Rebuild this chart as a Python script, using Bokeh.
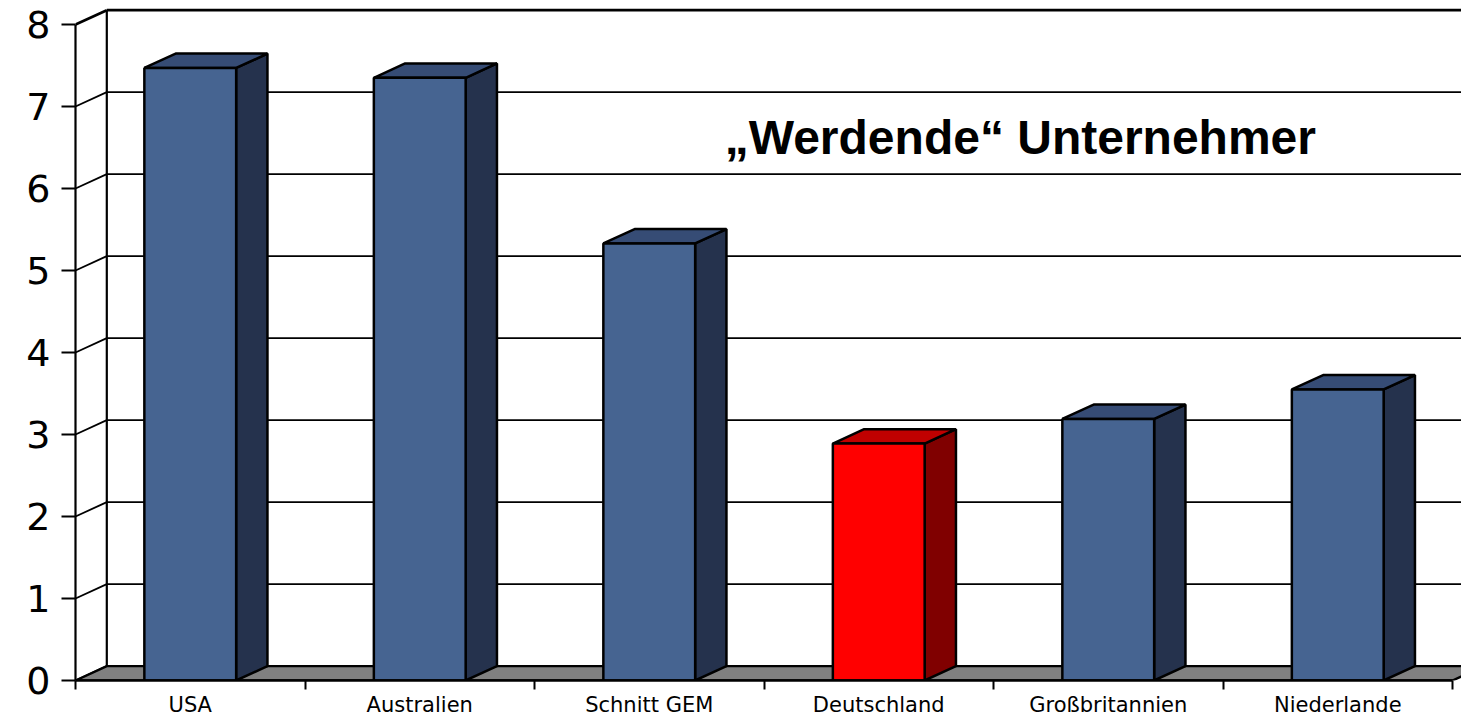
from bokeh.plotting import figure
from bokeh.models import Range1d, FixedTicker
from bokeh.embed import file_html
from bokeh.resources import INLINE
from bokeh.core.properties import value

# ---- data ----
categories = ["USA", "Australien", "Schnitt GEM", "Deutschland", "Großbritannien", "Niederlande"]
values = [7.47, 7.35, 5.33, 2.89, 3.19, 3.55]
highlighted = [False, False, False, True, False, False]
y_ticks = [0, 1, 2, 3, 4, 5, 6, 7, 8]
chart_title = "„Werdende“ Unternehmer"

# ---- styling ----
BLUE_FRONT, BLUE_TOP, BLUE_SIDE = "#466491", "#364c75", "#25324d"
RED_FRONT, RED_TOP, RED_SIDE = "#ff0000", "#c00000", "#800000"
FLOOR = "#808080"
DX = 0.1364     # depth offset (category units)
DY = 0.175      # depth offset (value units)
BAR_W = 0.40

W, H = 1461, 719
MB_LEFT, MB_BOTTOM = 75, 37
PX_PER_CAT, PX_PER_UNIT = 229.5, 82.0
x_end = (W - MB_LEFT) / PX_PER_CAT
y_end = 680.0 / PX_PER_UNIT
n = len(categories)
ymax = y_ticks[-1]

p = figure(width=W, height=H, output_backend="svg", toolbar_location=None,
           x_range=Range1d(0, x_end), y_range=Range1d(0, y_end),
           min_border_left=MB_LEFT, min_border_right=0, min_border_top=0,
           min_border_bottom=MB_BOTTOM, background_fill_color="white",
           border_fill_color="white")
p.outline_line_color = None
p.xgrid.visible = False
p.ygrid.visible = False

# ---- walls ----
grid_v = y_ticks[1:]
p.segment(x0=[0] * len(y_ticks), y0=y_ticks, x1=[DX] * len(y_ticks),
          y1=[v + DY for v in y_ticks], line_color="black",
          line_width=[1.8] * (len(y_ticks) - 1) + [2.8])
p.segment(x0=[DX] * len(grid_v), y0=[v + DY for v in grid_v],
          x1=[n + 1] * len(grid_v), y1=[v + DY for v in grid_v],
          line_color="black", line_width=[1.8] * (len(grid_v) - 1) + [2.8])
p.segment(x0=[DX], y0=[DY], x1=[DX], y1=[ymax + DY], line_color="black", line_width=2.2)

# floor
p.patch(x=[0, n, n + DX, DX], y=[0, 0, DY, DY], fill_color=FLOOR,
        line_color="black", line_width=2.4)

# ---- bars ----
centers = [i + 0.5 for i in range(n)]
lefts = [c - BAR_W / 2 for c in centers]
rights = [c + BAR_W / 2 for c in centers]
fronts = [RED_FRONT if h else BLUE_FRONT for h in highlighted]
tops = [RED_TOP if h else BLUE_TOP for h in highlighted]
sides = [RED_SIDE if h else BLUE_SIDE for h in highlighted]

p.patches(xs=[[r, r + DX, r + DX, r] for r in rights],
          ys=[[0, DY, v + DY, v] for v in values],
          fill_color=sides, line_color="black", line_width=2.5)
p.patches(xs=[[l, r, r + DX, l + DX] for l, r in zip(lefts, rights)],
          ys=[[v, v, v + DY, v + DY] for v in values],
          fill_color=tops, line_color="black", line_width=2.5)
p.quad(left=lefts, right=rights, bottom=[0] * n, top=values, fill_color=fronts,
       line_color="black", line_width=2.5)

# ---- title ----
p.text(x=[4.117], y=[6.62], text=[chart_title], text_font=value("Liberation Sans"),
       text_font_style="bold", text_font_size="48px", text_align="center",
       text_baseline="alphabetic", text_color="black")

# ---- axes ----
ya = p.yaxis[0]
ya.ticker = FixedTicker(ticks=y_ticks)
ya.bounds = (0, ymax)
ya.axis_line_width = 2.2
ya.axis_line_color = "black"
ya.major_tick_out = 14
ya.major_tick_in = 0
ya.major_tick_line_width = 2
ya.minor_tick_line_color = None
ya.major_label_standoff = 11
ya.major_label_text_font = "DejaVu Sans"
ya.major_label_text_font_size = "38px"
ya.major_label_text_color = "black"

xa = p.xaxis[0]
xa.ticker = FixedTicker(ticks=centers, minor_ticks=list(range(n + 1)))
xa.major_label_overrides = {c: cat for c, cat in zip(centers, categories)}
xa.bounds = (0, n)
xa.axis_line_width = 2.4
xa.axis_line_color = "black"
xa.major_tick_line_color = None
xa.major_tick_out = 0
xa.major_tick_in = 0
xa.minor_tick_out = 9
xa.minor_tick_in = 0
xa.minor_tick_line_width = 2
xa.minor_tick_line_color = "black"
xa.major_label_standoff = 3
xa.major_label_text_font = "DejaVu Sans"
xa.major_label_text_font_size = "21px"
xa.major_label_text_color = "black"

open("out.html", "w").write(file_html(p, INLINE))
